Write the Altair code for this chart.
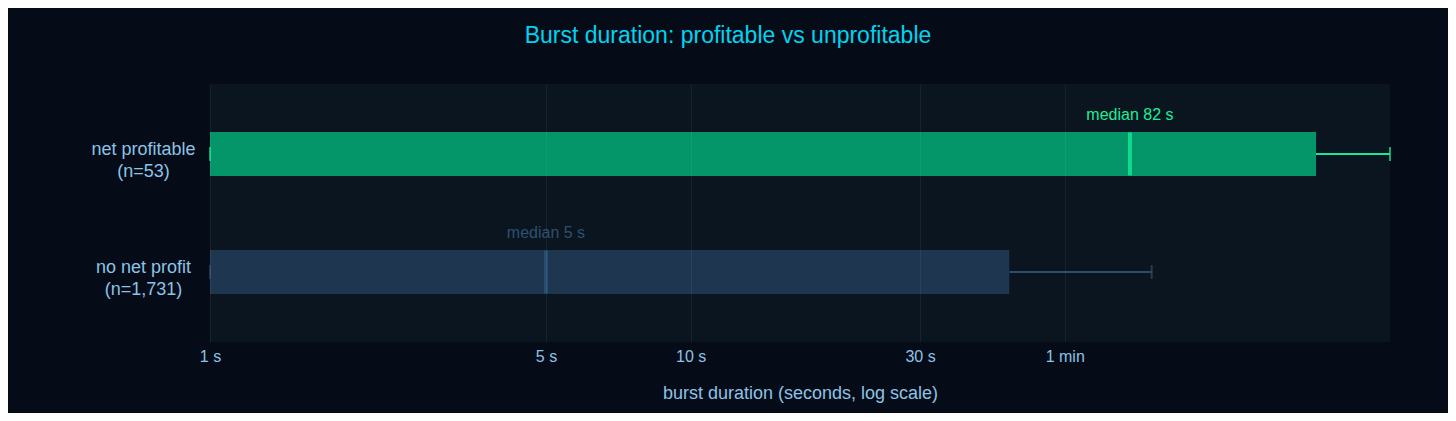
import altair as alt
import pandas as pd

# ---- data ----
group_names = ["net profitable", "no net profit"]
group_n = [53, 1731]
whisker_lo = [1, 1]
q1 = [1, 1]
medians = [82, 5]
q3 = [200, 46]
whisker_hi = [285, 91]

tick_values = [1, 5, 10, 30, 60]
tick_labels = ["1 s", "5 s", "10 s", "30 s", "1 min"]

bar_colors = ["#049568", "#1e3650"]
median_colors = ["#1af5a0", "#2d5580"]
whisker_colors = ["#17e899", "#2e4d6c"]
text_colors = ["#1af09a", "#2e5070"]

labels = [f"{g}\n(n={n:,})" for g, n in zip(group_names, group_n)]
df = pd.DataFrame({
    "group": labels,
    "lo": whisker_lo,
    "q1": q1,
    "median": medians,
    "q3": q3,
    "hi": whisker_hi,
    "bar_c": bar_colors,
    "med_c": median_colors,
    "wh_c": whisker_colors,
    "txt_c": text_colors,
    "mtext": [f"median {m} s" for m in medians],
})

label_expr = " : ".join(
    [f"datum.value == {v} ? '{t}'" for v, t in zip(tick_values, tick_labels)]
) + " : ''"

FONT = "Liberation Sans"
LABEL_C = "#8cc3e6"

xscale = alt.Scale(type="log", domain=[1, 285], nice=False)
yscale = alt.Scale(domain=labels, paddingInner=0, paddingOuter=0.093)

xaxis = alt.Axis(
    values=tick_values, labelExpr=label_expr, title="burst duration (seconds, log scale)",
    grid=True, gridColor="#ffffff", gridOpacity=0.06, domain=False, ticks=False,
    labelPadding=6, titlePadding=20, labelFontSize=16, titleFontSize=18,
    labelColor=LABEL_C, titleColor=LABEL_C, labelFont=FONT, titleFont=FONT,
    titleFontWeight="normal", zindex=1, labelFlush=False,
)
yaxis = alt.Axis(
    title=None, grid=False, domain=False, ticks=False,
    labelExpr="split(datum.label, '\\n')", labelAlign="center", labelBaseline="middle",
    labelPadding=67, labelFontSize=18, labelColor=LABEL_C, labelFont=FONT,
    labelLineHeight=22, labelOffset=-4,
)

base = alt.Chart(df)
y_enc = alt.Y("group:N", scale=yscale, axis=yaxis, sort=labels)

bars = base.mark_bar(size=44).encode(
    x=alt.X("q1:Q", scale=xscale, axis=xaxis),
    x2="q3:Q",
    y=y_enc,
    color=alt.Color("bar_c:N", scale=None),
)
whisk = base.mark_rule(strokeWidth=2).encode(
    x="q3:Q", x2="hi:Q", y=alt.Y("group:N", sort=labels),
    color=alt.Color("wh_c:N", scale=None),
)
cap_hi = base.mark_tick(orient="vertical", size=14, thickness=2).encode(
    x="hi:Q", y=alt.Y("group:N", sort=labels), color=alt.Color("wh_c:N", scale=None),
)
cap_lo = base.mark_tick(orient="vertical", size=14, thickness=2).encode(
    x="lo:Q", y=alt.Y("group:N", sort=labels), color=alt.Color("wh_c:N", scale=None),
)
med = base.mark_tick(orient="vertical", size=43, thickness=4).encode(
    x="median:Q", y=alt.Y("group:N", sort=labels), color=alt.Color("med_c:N", scale=None),
)
mtext = base.mark_text(dy=-39, fontSize=16, font=FONT, baseline="middle").encode(
    x="median:Q", y=alt.Y("group:N", sort=labels), text="mtext:N",
    color=alt.Color("txt_c:N", scale=None),
)

chart = (
    alt.layer(bars, whisk, cap_lo, cap_hi, med, mtext)
    .properties(
        width=1180, height=258,
        autosize=alt.AutoSizeParams(type="none"),
        padding={"left": 202, "top": 76, "right": 58, "bottom": 71},
        title=alt.TitleParams(
            "Burst duration: profitable vs unprofitable", anchor="middle",
            dx=-72, offset=36, fontSize=23, font=FONT, fontWeight="normal", color="#00d4f0",
        ),
    )
    .configure(background="#050c17")
    .configure_view(fill="#0a1520", stroke=None)
)

chart.save("out.html", embed_options={"renderer": "svg", "actions": False})
